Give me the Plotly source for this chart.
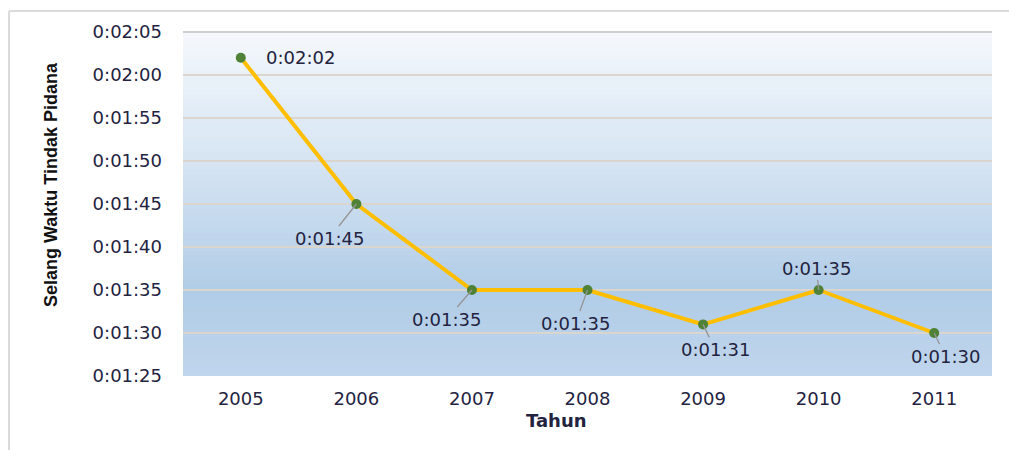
import plotly.graph_objects as go

# Tahun vs. selang waktu terjadinya tindak pidana (dalam detik)
years = ["2005", "2006", "2007", "2008", "2009", "2010", "2011"]
interval_sec = [122, 105, 95, 95, 91, 95, 90]

y_tick_vals = [85, 90, 95, 100, 105, 110, 115, 120, 125]
y_tick_text = ["0:01:25", "0:01:30", "0:01:35", "0:01:40", "0:01:45",
               "0:01:50", "0:01:55", "0:02:00", "0:02:05"]

# label placement: pixel offset of the label centre from its point, leader line or not
label_offsets = [(60, 0, False), (-27, 34, True), (-25, 29, True), (-12, 33, True),
                 (12, 25, True), (-2, -22, True), (11, 23, True)]


def fmt_hms(s):
    return f"{s // 3600}:{(s % 3600) // 60:02d}:{s % 60:02d}"


W, H = 1009, 450
L, R, T, B = 183, 17, 32, 74
pw, ph = W - L - R, H - T - B

TICK_FONT = dict(family="DejaVu Sans", size=18, color="#23233f")

fig = go.Figure()
fig.add_trace(go.Scatter(
    x=years, y=interval_sec, mode="lines+markers",
    line=dict(color="#ffbe00", width=4),
    marker=dict(color="#4f8236", size=10, line=dict(width=0)),
    hoverinfo="skip", showlegend=False,
))

# vertical gradient background of the plotting area
stops = [(0.0, (0xbf, 0xd5, 0xec)), (0.25, (0xb1, 0xcc, 0xe7)),
         (0.6, (0xd4, 0xe3, 0xf2)), (1.0, (0xf5, 0xf8, 0xfc))]


def grad(t):
    for (t0, c0), (t1, c1) in zip(stops, stops[1:]):
        if t0 <= t <= t1:
            f = (t - t0) / (t1 - t0)
            return "rgb(%d,%d,%d)" % tuple(round(a + (b - a) * f) for a, b in zip(c0, c1))
    return "rgb(%d,%d,%d)" % stops[-1][1]


shapes = []
N = 60
for i in range(N):
    y0, y1 = i / N, (i + 1) / N
    shapes.append(dict(type="rect", xref="x domain", yref="y domain",
                       x0=0, x1=1, y0=y0, y1=y1 + 0.002, layer="below",
                       line=dict(width=0), fillcolor=grad((y0 + y1) / 2)))

# top edge of the plotting area
shapes.append(dict(type="line", xref="x domain", yref="y domain", x0=0, x1=1,
                   y0=1, y1=1, line=dict(color="#cfcfcf", width=2)))


def px_x(px):
    return (px - L) / pw


def px_y(py):
    return (H - B - py) / ph


# outer frame
frame = dict(color="#dadada", width=2)
shapes.append(dict(type="line", xref="paper", yref="paper",
                   x0=px_x(9), x1=px_x(1012), y0=px_y(11), y1=px_y(11), line=frame))
shapes.append(dict(type="line", xref="paper", yref="paper",
                   x0=px_x(9), x1=px_x(9), y0=px_y(11), y1=px_y(455), line=frame))

annotations = []
for idx, (v, (dx, dy, leader)) in enumerate(zip(interval_sec, label_offsets)):
    if leader:
        annotations.append(dict(
            x=idx, y=v, xref="x", yref="y", text=fmt_hms(v),
            showarrow=True, arrowhead=0, arrowwidth=1.3, arrowcolor="#959595",
            ax=dx, ay=dy, standoff=0, font=TICK_FONT,
        ))
    else:
        annotations.append(dict(
            x=idx, y=v, xref="x", yref="y", text=fmt_hms(v),
            showarrow=False, xshift=dx, font=TICK_FONT,
        ))

annotations.append(dict(
    text="Tahun", x=px_x(556), y=px_y(420), xref="paper", yref="paper",
    showarrow=False, xanchor="center", yanchor="middle",
    font=dict(family="DejaVu Sans", size=18, color="#23233f", weight="bold"),
))
annotations.append(dict(
    text="Selang Waktu Tindak Pidana", x=px_x(51), y=px_y(185),
    xref="paper", yref="paper", showarrow=False, textangle=-90,
    xanchor="center", yanchor="middle",
    font=dict(family="Liberation Sans", size=18, color="#111111", weight="bold"),
))

fig.update_layout(
    width=W, height=H,
    margin=dict(l=L, r=R, t=T, b=B, pad=0),
    paper_bgcolor="white", plot_bgcolor="white",
    shapes=shapes, annotations=annotations,
    xaxis=dict(type="category", range=[-0.5, 6.5], showgrid=False, zeroline=False,
               showline=False, ticks="", tickfont=TICK_FONT, ticklabelstandoff=10,
               fixedrange=True),
    yaxis=dict(range=[85, 125], tickvals=y_tick_vals, ticktext=y_tick_text,
               showgrid=True, gridcolor="#dad5cd", gridwidth=1.5, zeroline=False,
               showline=False, ticks="", tickfont=TICK_FONT, ticklabelstandoff=20,
               fixedrange=True),
)

fig.write_html("out.html")
